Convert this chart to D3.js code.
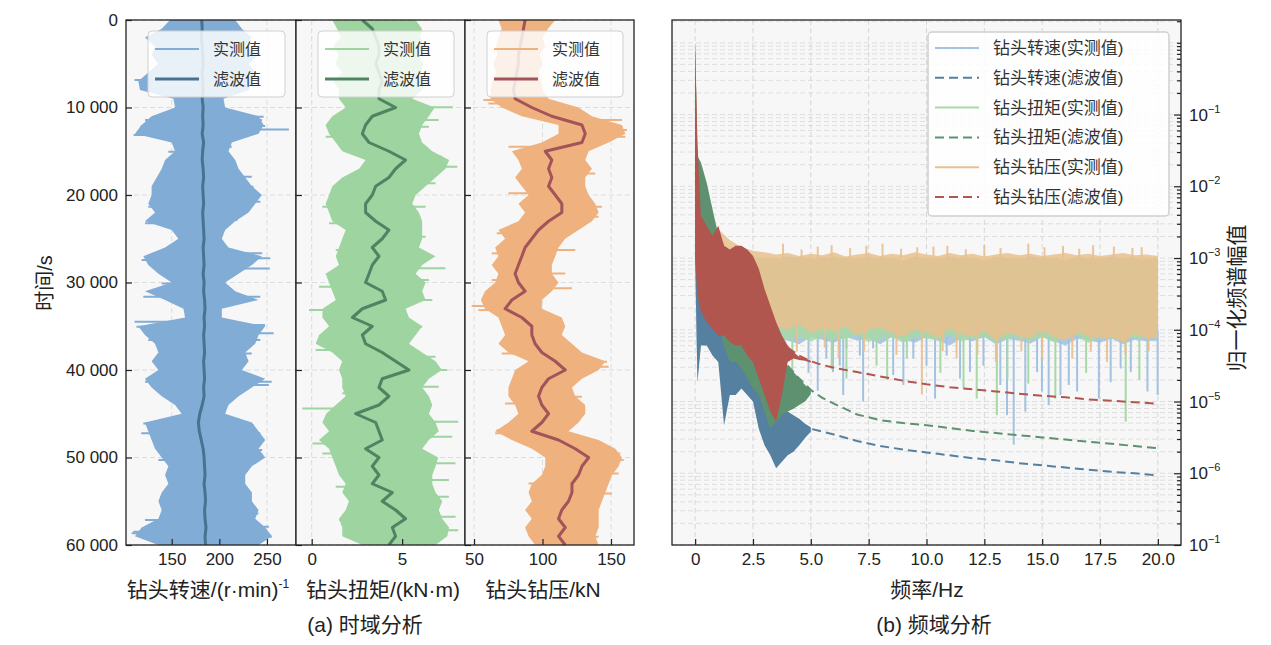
<!DOCTYPE html>
<html><head><meta charset="utf-8">
<script src="https://cdn.jsdelivr.net/npm/d3@7"></script>
<style>body{margin:0;background:#fff}svg{display:block}</style>
</head><body><svg id="fig" width="1271" height="645"></svg>
<script>
// ---------- (a) time domain, envelopes read every 1000 s ----------
var timeS = [0,1000,2000,3000,4000,5000,6000,7000,8000,9000,10000,11000,12000,13000,14000,15000,16000,17000,18000,19000,
  20000,21000,22000,23000,24000,25000,26000,27000,28000,29000,30000,31000,32000,33000,34000,35000,36000,37000,38000,39000,
  40000,41000,42000,43000,44000,45000,46000,47000,48000,49000,50000,51000,52000,53000,54000,55000,56000,57000,58000,59000,60000];
var timeTicks = [0,10000,20000,30000,40000,50000,60000];
var timeLabels = ["0","10 000","20 000","30 000","40 000","50 000","60 000"];

var rpmLo = [148.2,139.5,121.9,132.5,128.9,136.0,125.4,114.9,116.7,151.8,153.5,128.9,118.4,111.4,150.0,153.5,143.0,139.5,134.2,128.9,
  128.9,125.4,132.5,121.9,150.0,157.0,143.0,120.2,125.4,136.0,150.0,121.9,143.0,162.3,164.0,114.9,121.9,132.5,136.0,128.9,
  136.0,121.9,128.9,139.5,153.5,160.5,121.9,125.4,128.9,132.5,139.5,146.5,143.0,146.5,139.5,136.0,139.5,136.0,118.4,111.4,136.0];
var rpmHi = [216.7,223.7,234.2,227.2,241.2,230.7,237.7,234.2,230.7,204.4,206.1,241.2,246.5,241.2,213.2,209.6,216.7,220.2,227.2,234.2,
  244.7,237.7,230.7,216.7,206.1,202.6,209.6,244.7,234.2,220.2,206.1,216.7,241.2,202.6,202.6,248.2,241.2,237.7,227.2,230.7,
  223.7,248.2,234.2,220.2,209.6,206.1,234.2,241.2,248.2,241.2,248.2,234.2,227.2,227.2,234.2,234.2,241.2,237.7,248.2,255.3,241.2];
var rpmFilt = [181.5,182,181,182,182.5,183,182,182.5,183,182,183,182.5,183,182,183.5,182.5,182,183,183.5,182.5,
  183,183.5,182.5,183,183.5,184,183,183.5,184,183,184,183.5,184.5,185,184,184.5,183.5,184,184.5,183.5,
  184,184.5,183.5,184,182,179.5,178,179,181,183,184,184.5,185,184,185,185.5,184.5,185,186,185,185.5];
var rpmSpikeT = [6860,12500,13150,28400,34480,35800,41340,47240,58670,59050,
  11050,11430,12100,14480,17900,19050,20760,22860,26670,27240,31620,34860,36580,38100,41720,46290,47240,49150,56390,57910,
  11430,12190,15050,17900,21340,23240,27430,30100,31620,35050,36580,41340,46100,50290,57150,58480];
var rpmSpikeV = [111,273,110,253,111,257,255,118,108,255,
  246.5,244.7,248,213,234,236,243,219,245,253.5,243,248,243,234,252,236,243,245,241,252,
  122,117,146.5,139.5,125.4,122,118.4,139.5,120.2,113,125.4,122,120.2,136,122,109.6];

var torqueLo = [1.14,1.4,1.6,1.2,1.5,1.3,1.7,1.2,1.5,1.51,1.88,1.14,0.77,0.96,1.33,1.69,2.98,2.62,1.69,1.14,
  0.96,0.77,0.96,1.14,1.88,1.69,1.51,1.33,1.51,0.77,0.96,1.14,1.33,0.6,0.59,0.96,0.41,0.22,1.14,1.69,
  1.51,1.69,1.69,1.88,1.33,0.8,0.59,0.96,0.4,0.96,1.14,1.33,1.51,1.88,1.69,2.06,1.88,1.51,1.69,1.69,2.8];
var torqueHi = [5.75,6.1,6.0,6.3,5.9,6.2,6.0,6.4,6.1,5.56,6.8,6.48,6.11,5.93,6.11,6.67,7.6,7.4,6.85,6.3,
  5.75,5.56,5.93,6.11,6.11,6.11,5.93,6.85,6.11,5.75,6.3,6.11,6.3,5.19,5.38,6.11,5.75,5.38,6.11,6.85,
  7.2,6.48,6.11,6.48,6.67,6.48,6.85,7.03,6.48,6.11,7.0,6.85,6.67,6.67,6.85,7.22,7.03,7.22,7.6,7.5,6.85];
var torqueFilt = [2.8,3.35,3.54,3.72,3.72,3.54,3.72,3.9,3.72,3.72,4.64,3.35,2.98,2.8,3.17,4.27,5.19,4.64,4.27,3.54,
  3.35,2.98,2.98,3.54,4.27,3.9,3.35,3.72,3.35,3.17,2.98,3.9,4.09,2.8,2.25,3.35,2.8,2.98,3.9,4.64,
  5.38,3.9,3.72,4.27,3.72,2.43,3.54,3.72,3.9,2.98,3.72,3.35,3.72,3.35,4.46,3.9,4.64,5.19,4.46,4.64,4.27];
var torqueSpikeT = [9980,16760,28380,33150,40000,44390,45900,48390,50670,58300,
  11430,12190,15620,18670,21340,24770,26670,29720,32000,35050,38480,41910,47620,52580,54480,56770,
  13340,21340,23240,26290,30480,36580,37720,42670,49530,53340,57150];
var torqueSpikeV = [7.8,8.05,7.4,-0.15,7.5,-0.52,8.1,0.04,7.95,8.1,
  7.03,6.48,7.22,6.85,6.3,6.3,6.11,6.48,6.67,6.11,6.85,7.03,7.77,7.59,7.59,7.96,
  0.77,0.59,0.96,1.33,0.41,0.41,0.22,1.69,0.59,1.33,1.51];

var wobLo = [67.8,70.2,68,66,67,64,66,63,62,62,70.2,84.9,111.7,111.7,99.5,77.6,82.4,84.9,80.0,84.9,
  89.8,82.4,87.3,82.4,67.8,72.7,65.4,67.8,62.9,67.8,65.4,58.0,55,58.0,67.8,70.2,72.7,67.8,75.1,89.8,
  80.0,77.6,75.1,75.1,80.0,82.4,75.1,65.4,77.6,92.2,102.0,102.0,99.5,92.2,89.8,92.2,87.3,92.2,87.3,89.8,94.6];
var wobHi = [109.3,104,100,102,98,100,97,99,100,104.4,126.3,136.1,158.0,160.5,148.3,133.7,131.2,136.1,131.2,131.2,
  133.7,138.5,141.0,136.1,126.3,116.6,111.7,109.3,106.8,106.8,111.7,106.8,99.5,99.5,114.1,116.6,114.1,121.5,128.8,145.9,
  141.0,128.8,121.5,123.9,131.2,131.2,126.3,119.0,141.0,153.2,158.0,155.6,150.7,148.3,145.9,143.4,141.0,141.0,141.0,138.5,141.0];
var wobFilt = [87.3,86.1,84.9,83.7,82.4,82.4,81.2,80.0,78.8,80.0,92.2,106.8,128.8,131.2,128.8,102.0,106.8,104.4,106.8,104.4,
  109.3,114.1,114.1,104.4,97.1,92.2,87.3,84.9,82.4,80.0,82.4,87.3,77.6,72.7,84.9,92.2,92.2,94.6,99.5,109.3,
  116.6,104.4,99.5,97.1,99.5,104.4,99.5,92.2,111.7,123.9,133.7,128.8,126.3,121.5,121.5,119.0,114.1,111.7,116.6,111.7,116.6];
var wobSpikeT = [9140,12570,24380,30670,32690,39050,47240,49530,
  11430,13340,17530,21340,22480,26290,28960,39620,43050,48770,50290,51820,54100,59050,
  9530,14480,19810,26670,29720,33150,38100,43820,46860,52960,56390];
var wobSpikeV = [56.8,161.7,66.6,121.5,48.3,147.1,65.4,156.8,
  158,160.5,138.5,143.4,141,123.9,116.6,148.3,128.8,148.3,159.3,155.6,150.7,141,
  60.5,75.1,75.1,62.9,62.9,53.2,70.2,72.7,66.6,89.8,89.8];

// ---------- (b) frequency domain, log10 of normalised amplitude ----------
var measF = [0,0.1,0.25,0.5,1,1.5,2,2.5,3,3.5,4,4.5,5,5.5,6,6.5,7,7.5,8,8.5,9,9.5,10,10.5,11,11.5,12,12.5,13,13.5,14,14.5,15,15.5,16,16.5,17,17.5,18,18.5,19,19.5,20];
var rpmMeasHi = [0,-2.95,-3.0,-3.02,-2.98,-3.0,-3.03,-2.99,-3.01,-3.02,-2.98,-3.0,-3.03,-2.99,-3.01,-3.0,-3.02,-2.98,-3.01,-3.0,
  -3.03,-2.99,-3.0,-3.02,-2.98,-3.01,-3.0,-3.03,-2.99,-3.0,-3.02,-2.98,-3.01,-3.0,-3.03,-2.99,-3.0,-3.02,-2.98,-3.01,-3.0,-3.02,-3.0];
var rpmMeasLo = [-3.0,-4.7,-4.2,-4.15,-4.2,-4.12,-4.18,-4.1,-4.16,-4.12,-4.15,-4.2,-4.1,-4.14,-4.18,-4.1,-4.15,-4.12,-4.2,-4.1,
  -4.14,-4.18,-4.1,-4.15,-4.22,-4.12,-4.16,-4.1,-4.2,-4.13,-4.15,-4.19,-4.1,-4.16,-4.22,-4.12,-4.15,-4.18,-4.12,-4.2,-4.14,-4.16,-4.15];
var torqueMeasHi = [0,-1.55,-1.7,-2.0,-2.65,-2.95,-3.0,-2.98,-3.01,-3.0,-3.02,-2.99,-3.0,-3.03,-2.98,-3.01,-3.0,-3.02,-2.99,-3.0,
  -3.03,-2.98,-3.01,-3.0,-3.02,-2.99,-3.0,-3.03,-2.98,-3.01,-3.0,-3.02,-2.99,-3.0,-3.03,-2.98,-3.01,-3.0,-3.02,-2.99,-3.0,-3.01,-3.0];
var torqueMeasLo = [-2.0,-2.85,-3.05,-3.3,-3.9,-4.1,-4.12,-4.15,-4.1,-4.18,-4.12,-4.1,-4.16,-4.1,-4.14,-4.12,-4.08,-4.17,-4.12,-4.1,
  -4.18,-4.11,-4.12,-4.15,-4.08,-4.16,-4.12,-4.1,-4.18,-4.11,-4.12,-4.15,-4.1,-4.17,-4.12,-4.08,-4.18,-4.11,-4.12,-4.15,-4.1,-4.12,-4.12];
var wobMeasHi = [0,-1.6,-2.1,-2.4,-2.6,-2.75,-2.85,-2.9,-2.92,-2.95,-2.93,-2.97,-2.94,-2.96,-2.92,-2.98,-2.95,-2.93,-2.97,-2.94,
  -2.96,-2.92,-2.95,-2.97,-2.93,-2.96,-2.94,-2.98,-2.95,-2.93,-2.96,-2.94,-2.97,-2.95,-2.93,-2.96,-2.94,-2.97,-2.95,-2.93,-2.96,-2.95,-2.97];
var wobMeasLo = [-3.0,-3.5,-3.6,-3.7,-3.8,-3.85,-3.9,-3.9,-3.95,-3.95,-4.0,-3.92,-4.05,-3.98,-4.02,-3.95,-4.08,-4.0,-3.97,-4.05,
  -4.1,-4.0,-4.03,-4.12,-3.98,-4.06,-4.1,-4.02,-4.15,-4.05,-4.08,-4.12,-4.0,-4.1,-4.15,-4.05,-4.08,-4.12,-4.1,-4.18,-4.06,-4.12,-4.1];

var rpmDipF = [4.9,5.3,5.67,5.96,6.25,6.4,6.54,7.12,7.26,7.69,8.56,9.0,9.43,10.0,10.37,10.87,11.45,11.88,12.46,13.19,
  13.48,13.77,14.27,14.78,14.99,15.28,15.79,16.15,16.51,17.45,17.96,18.39,18.83,19.55,19.99];
var rpmDipV = [-4.6,-4.85,-4.4,-4.59,-4.5,-4.91,-4.26,-4.36,-5.0,-4.26,-4.63,-4.77,-4.4,-4.5,-4.96,-4.36,-4.68,-4.59,-4.5,-4.77,
  -5.19,-5.6,-5.14,-4.59,-4.86,-5.05,-4.91,-4.77,-4.86,-4.96,-4.73,-4.54,-4.59,-4.86,-4.91];
var torqueDipF = [3.2,4.2,5.9,6.54,7.84,8.3,9.15,10.6,11.6,12.17,13.04,13.5,14.4,15.57,16.9,18.61,19.2];
var torqueDipV = [-4.5,-4.7,-4.55,-4.68,-4.5,-4.7,-4.4,-4.6,-4.81,-4.96,-5.19,-4.68,-4.75,-4.96,-4.6,-5.28,-4.7];
var wobDipF = [3.4,4.4,5.6,6.2,7.3,8.7,9.8,10.7,11.3,12.2,13.0,14.1,15.0,16.3,17.1,17.8,18.6,19.6];
var wobDipV = [-4.3,-4.3,-4.25,-4.4,-4.3,-4.35,-4.9,-4.3,-4.4,-4.35,-4.45,-4.3,-4.4,-4.4,-4.3,-4.45,-4.35,-4.3];
var wobPeakF = [3.8,4.6,5.3,5.9,6.7,7.4,8.1,8.9,9.6,10.3,10.9,11.7,12.5,13.2,14.4,15.1,15.9,16.6,17.2,18.1,18.9,19.3];
var wobPeakV = [-2.8,-2.88,-2.84,-2.82,-2.86,-2.83,-2.8,-2.87,-2.85,-2.84,-2.83,-2.88,-2.82,-2.86,-2.8,-2.85,-2.83,-2.87,-2.82,-2.84,-2.86,-2.85];

var lowF = [0,0.1,0.25,0.5,0.75,1,1.25,1.5,1.75,2,2.25,2.5,2.75,3,3.25,3.5,3.75,4,4.25,4.5,4.75,5];
var rpmFiltHi = [0,-3.15,-3.34,-3.62,-3.75,-3.85,-3.89,-3.99,-4.08,-4.22,-4.31,-4.45,-4.59,-4.73,-4.87,-5.0,-5.1,-5.14,-5.19,-5.24,-5.31,-5.36];
var rpmFiltLo = [-3.0,-4.73,-4.22,-4.22,-4.36,-4.45,-5.33,-4.91,-4.91,-4.82,-4.91,-5.0,-5.38,-5.61,-5.75,-5.93,-5.84,-5.75,-5.7,-5.61,-5.51,-5.42];
var torqueFiltHi = [0,-1.58,-1.67,-1.95,-2.32,-2.69,-2.97,-3.15,-3.34,-3.52,-3.66,-3.8,-3.94,-4.08,-4.22,-4.31,-4.4,-4.5,-4.59,-4.68,-4.77,-4.84];
var torqueFiltLo = [-2.0,-2.83,-3.06,-3.29,-3.52,-3.89,-4.22,-4.45,-4.45,-4.54,-4.68,-4.82,-4.91,-5.14,-5.38,-5.28,-5.19,-5.14,-5.1,-5.05,-5.0,-4.9];
var wobFiltHi = [0,-1.4,-2.41,-2.55,-2.69,-2.55,-2.83,-2.88,-2.83,-2.83,-2.88,-2.97,-3.15,-3.43,-3.66,-3.89,-4.08,-4.22,-4.31,-4.38,-4.4,-4.43];
var wobFiltLo = [-3.0,-3.52,-3.75,-3.89,-3.99,-4.08,-4.08,-4.17,-4.22,-4.22,-4.36,-4.45,-4.68,-4.91,-5.14,-5.28,-4.91,-4.45,-4.4,-4.42,-4.43,-4.46];

var tailF = [4,4.5,5,5.5,6,7,8,9,10,11,12,13,14,15,16,17,18,19,20];
var rpmTail = [-5.2,-5.3,-5.38,-5.42,-5.46,-5.55,-5.62,-5.67,-5.71,-5.75,-5.79,-5.82,-5.86,-5.89,-5.92,-5.95,-5.98,-6.0,-6.03];
var torqueTail = [-4.5,-4.68,-4.84,-4.95,-5.03,-5.18,-5.26,-5.3,-5.33,-5.37,-5.41,-5.44,-5.47,-5.5,-5.53,-5.56,-5.59,-5.62,-5.65];
var wobTail = [-4.25,-4.36,-4.44,-4.49,-4.53,-4.59,-4.65,-4.71,-4.76,-4.8,-4.83,-4.86,-4.89,-4.92,-4.94,-4.97,-4.99,-5.01,-5.03];

var freqTicks = [0,2.5,5,7.5,10,12.5,15,17.5,20];
var freqLabels = ["0","2.5","5.0","7.5","10.0","12.5","15.0","17.5","20.0"];
var ampTicks = [1e-1,1e-2,1e-3,1e-4,1e-5,1e-6,1e-7];
var ampExpLabels = ["-1","-2","-3","-4","-5","-6","-1"];

var FONT = "'Liberation Sans','Noto Sans CJK SC',sans-serif";
var svg = d3.select('#fig').style('font-family', FONT);
var TOP = 20, BOT = 545;
var yt = d3.scaleLinear().domain([0, 60000]).range([TOP, BOT]);

function styleAxis(g) {
  g.select('.domain').remove();
  g.selectAll('.tick line').attr('stroke', '#222').attr('stroke-width', 1.2);
  g.selectAll('.tick text').attr('fill', '#222').style('font-size', '17px').style('font-family', FONT);
}

function timePanel(c) {
  var xs = d3.scaleLinear().domain(c.dom).range([c.x0, c.x1]);
  var g = svg.append('g');
  svg.append('clipPath').attr('id', 'clip' + c.id).append('rect')
    .attr('x', c.x0).attr('y', TOP).attr('width', c.x1 - c.x0).attr('height', BOT - TOP);
  g.append('rect').attr('x', c.x0).attr('y', TOP).attr('width', c.x1 - c.x0).attr('height', BOT - TOP).attr('fill', '#f7f7f7');
  c.ticks.forEach(function(v) {
    g.append('line').attr('x1', xs(v)).attr('x2', xs(v)).attr('y1', TOP).attr('y2', BOT)
      .attr('stroke', '#dcdcdc').attr('stroke-dasharray', '5,3');
  });
  timeTicks.forEach(function(t) {
    g.append('line').attr('x1', c.x0).attr('x2', c.x1).attr('y1', yt(t)).attr('y2', yt(t))
      .attr('stroke', '#dcdcdc').attr('stroke-dasharray', '5,3');
  });
  var plot = g.append('g').attr('clip-path', 'url(#clip' + c.id + ')');
  var idx = d3.range(timeS.length);
  plot.append('path').datum(idx)
    .attr('d', d3.area().y(function(i) { return yt(timeS[i]); })
      .x0(function(i) { return xs(c.lo[i]); }).x1(function(i) { return xs(c.hi[i]); }))
    .attr('fill', c.light);
  c.spT.forEach(function(t, j) {
    var k = Math.round(t / 1000);
    plot.append('line').attr('x1', xs(c.filt[k])).attr('x2', xs(c.spV[j]))
      .attr('y1', yt(t)).attr('y2', yt(t)).attr('stroke', c.light).attr('stroke-width', 2);
  });
  plot.append('path').datum(idx)
    .attr('d', d3.line().y(function(i) { return yt(timeS[i]); }).x(function(i) { return xs(c.filt[i]); }))
    .attr('fill', 'none').attr('stroke', c.dark).attr('stroke-width', 3).attr('stroke-linejoin', 'round');

  g.append('g').attr('transform', 'translate(0,' + BOT + ')')
    .call(d3.axisBottom(xs).tickValues(c.ticks).tickFormat(d3.format('d')).tickSizeInner(-6).tickSizeOuter(0).tickPadding(8))
    .call(styleAxis);
  var ya = d3.axisLeft(yt).tickValues(timeTicks).tickSizeInner(-6).tickSizeOuter(0).tickPadding(8)
    .tickFormat(function(d, i) { return c.id === 0 ? timeLabels[i] : ''; });
  g.append('g').attr('transform', 'translate(' + c.x0 + ',0)').call(ya).call(styleAxis);

  g.append('rect').attr('x', c.x0).attr('y', TOP).attr('width', c.x1 - c.x0).attr('height', BOT - TOP)
    .attr('fill', 'none').attr('stroke', '#222').attr('stroke-width', 1.3);

  // legend
  var lx = c.x0 + 22, lg = svg.append('g');
  lg.append('rect').attr('x', lx).attr('y', 31).attr('width', c.x1 - c.x0 - 33).attr('height', 66).attr('rx', 4)
    .attr('fill', '#fff').attr('fill-opacity', 0.82).attr('stroke', '#d0d0d0');
  [['实测值', c.light, 2], ['滤波值', c.dark, 3]].forEach(function(e, j) {
    var yy = 49 + j * 30;
    lg.append('line').attr('x1', lx + 7).attr('x2', lx + 51).attr('y1', yy).attr('y2', yy)
      .attr('stroke', e[1]).attr('stroke-width', e[2]);
    lg.append('text').attr('x', lx + 65).attr('y', yy + 6).text(e[0])
      .style('font-size', '16px').attr('fill', '#333');
  });
}

timePanel({id: 0, x0: 126, x1: 296, dom: [102, 280.5], ticks: [150, 200, 250], lo: rpmLo, hi: rpmHi, filt: rpmFilt,
  spT: rpmSpikeT, spV: rpmSpikeV, light: '#80acd6', dark: '#48728f'});
timePanel({id: 1, x0: 296, x1: 465, dom: [-0.87, 8.48], ticks: [0, 5], lo: torqueLo, hi: torqueHi, filt: torqueFilt,
  spT: torqueSpikeT, spV: torqueSpikeV, light: '#9dd49f', dark: '#4f8462'});
timePanel({id: 2, x0: 465, x1: 634, dom: [43.4, 166.8], ticks: [50, 100, 150], lo: wobLo, hi: wobHi, filt: wobFilt,
  spT: wobSpikeT, spV: wobSpikeV, light: '#efb27e', dark: '#a3535a'});

// axis titles (a)
function label(x, y, size, txt) {
  return svg.append('text').attr('x', x).attr('y', y).attr('text-anchor', 'middle')
    .style('font-size', size + 'px').attr('fill', '#222').text(txt);
}
svg.append('text').attr('transform', 'translate(45,283) rotate(-90)').attr('text-anchor', 'middle').attr('dy', '0.35em')
  .style('font-size', '20px').attr('fill', '#222').text('时间/s');
var t1 = label(208, 597, 21, null);
t1.append('tspan').text('钻头转速/(r·min)');
t1.append('tspan').attr('dy', -9).style('font-size', '12px').text('-1');
label(383, 597, 21, '钻头扭矩/(kN·m)');
label(543, 597, 21, '钻头钻压/kN');
label(365, 632, 21, '(a) 时域分析');

// ---------- panel (b) ----------
var BX0 = 672, BX1 = 1181;
var xf = d3.scaleLinear().domain([-1, 21]).range([BX0, BX1]);
var yl = d3.scaleLog().domain([1e-7, 2.08]).range([BOT, TOP]);
var P = function(e) { return yl(Math.pow(10, e)); };
var gb = svg.append('g');
svg.append('clipPath').attr('id', 'clipB').append('rect').attr('x', BX0).attr('y', TOP).attr('width', BX1 - BX0).attr('height', BOT - TOP);
gb.append('rect').attr('x', BX0).attr('y', TOP).attr('width', BX1 - BX0).attr('height', BOT - TOP).attr('fill', '#f7f7f7');
yl.ticks().forEach(function(v) {
  gb.append('line').attr('x1', BX0).attr('x2', BX1).attr('y1', yl(v)).attr('y2', yl(v))
    .attr('stroke', '#dedede').attr('stroke-dasharray', '5,3');
});
freqTicks.forEach(function(v) {
  gb.append('line').attr('x1', xf(v)).attr('x2', xf(v)).attr('y1', TOP).attr('y2', BOT)
    .attr('stroke', '#d6d6d6').attr('stroke-dasharray', '5,3');
});
var pb = gb.append('g').attr('clip-path', 'url(#clipB)');

function band(fr, lo, hi, color, op) {
  pb.append('path').datum(d3.range(fr.length))
    .attr('d', d3.area().x(function(i) { return xf(fr[i]); })
      .y0(function(i) { return P(lo[i]); }).y1(function(i) { return P(hi[i]); }))
    .attr('fill', color).attr('fill-opacity', op);
}
function sticks(fr, from, to, color, op) {
  fr.forEach(function(f, i) {
    pb.append('line').attr('x1', xf(f)).attr('x2', xf(f)).attr('y1', P(from)).attr('y2', P(to[i]))
      .attr('stroke', color).attr('stroke-width', 2).attr('stroke-opacity', op);
  });
}
function tail(vals, color) {
  pb.append('path').datum(d3.range(tailF.length))
    .attr('d', d3.line().x(function(i) { return xf(tailF[i]); }).y(function(i) { return P(vals[i]); }))
    .attr('fill', 'none').attr('stroke', color).attr('stroke-width', 2).attr('stroke-dasharray', '9,5');
}

var C = {rpmM: '#a4c2e0', rpmF: '#55809f', torM: '#a8d8a6', torF: '#5e9170', wobM: '#e9bf8d', wobF: '#b0564f'};
band(measF, rpmMeasLo, rpmMeasHi, C.rpmM, 0.9);
sticks(rpmDipF, -4.0, rpmDipV, C.rpmM, 1);
band(measF, torqueMeasLo, torqueMeasHi, C.torM, 0.85);
sticks(torqueDipF, -4.0, torqueDipV, C.torM, 1);
band(measF, wobMeasLo, wobMeasHi, C.wobM, 0.85);
sticks(wobDipF, -3.9, wobDipV, C.wobM, 0.9);
sticks(wobPeakF, -3.0, wobPeakV, C.wobM, 0.9);
tail(rpmTail, C.rpmF);
tail(torqueTail, C.torF);
tail(wobTail, C.wobF);
band(lowF, rpmFiltLo, rpmFiltHi, C.rpmF, 1);
band(lowF, torqueFiltLo, torqueFiltHi, C.torF, 1);
band(lowF, wobFiltLo, wobFiltHi, C.wobF, 1);

gb.append('g').attr('transform', 'translate(0,' + BOT + ')')
  .call(d3.axisBottom(xf).tickValues(freqTicks).tickFormat(function(d, i) { return freqLabels[i]; })
    .tickSizeInner(-6).tickSizeOuter(0).tickPadding(8))
  .call(styleAxis);
var minor = yl.ticks().filter(function(v) { return ampTicks.indexOf(v) < 0; });
gb.append('g').attr('transform', 'translate(' + BX1 + ',0)')
  .call(d3.axisRight(yl).tickValues(minor).tickFormat('').tickSizeInner(-4).tickSizeOuter(0))
  .call(styleAxis);
gb.append('g').attr('transform', 'translate(' + BX1 + ',0)')
  .call(d3.axisRight(yl).tickValues(ampTicks).tickFormat('').tickSizeInner(-7).tickSizeOuter(0))
  .call(styleAxis);
ampTicks.forEach(function(v, i) {
  var tx = gb.append('text').attr('x', BX1 + 8).attr('y', yl(v) + 6).style('font-size', '17px').attr('fill', '#222');
  tx.append('tspan').text('10');
  tx.append('tspan').attr('dy', -8).style('font-size', '11px').text(ampExpLabels[i].replace('-', '−'));
});
gb.append('rect').attr('x', BX0).attr('y', TOP).attr('width', BX1 - BX0).attr('height', BOT - TOP)
  .attr('fill', 'none').attr('stroke', '#222').attr('stroke-width', 1.3);

// legend (b)
var legB = [
  ['钻头转速(实测值)', C.rpmM, null], ['钻头转速(滤波值)', C.rpmF, '9,5'],
  ['钻头扭矩(实测值)', C.torM, null], ['钻头扭矩(滤波值)', C.torF, '9,5'],
  ['钻头钻压(实测值)', C.wobM, null], ['钻头钻压(滤波值)', C.wobF, '9,5']];
var lb = svg.append('g');
lb.append('rect').attr('x', 928).attr('y', 32).attr('width', 241).attr('height', 184).attr('rx', 4)
  .attr('fill', '#fff').attr('fill-opacity', 0.85).attr('stroke', '#d0d0d0').attr('stroke-width', 1.5);
legB.forEach(function(e, j) {
  var yy = 48 + j * 29.8;
  lb.append('line').attr('x1', 935).attr('x2', 979).attr('y1', yy).attr('y2', yy)
    .attr('stroke', e[1]).attr('stroke-width', 2).attr('stroke-dasharray', e[2]);
  lb.append('text').attr('x', 993).attr('y', yy + 6).text(e[0]).style('font-size', '17px').attr('fill', '#333');
});

label(927, 597, 21, '频率/Hz');
label(934, 632, 21, '(b) 频域分析');
svg.append('text').attr('transform', 'translate(1237,298) rotate(-90)').attr('text-anchor', 'middle').attr('dy', '0.35em')
  .style('font-size', '21px').attr('fill', '#222').text('归一化频谱幅值');
</script>
</body></html>
